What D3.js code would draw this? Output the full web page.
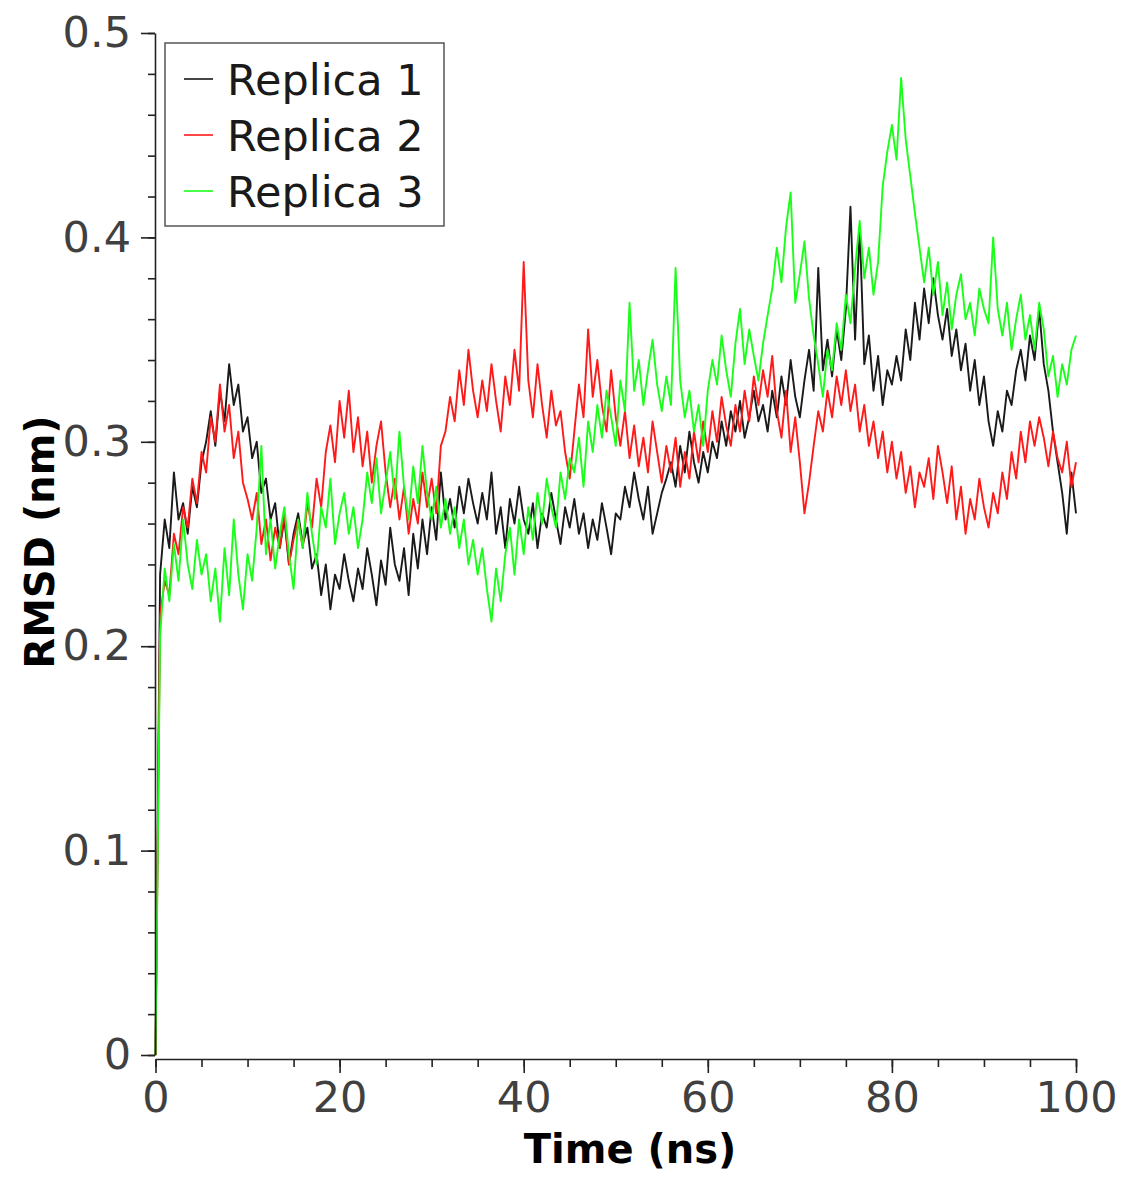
<!DOCTYPE html>
<html>
<head>
<meta charset="utf-8">
<script src="https://cdn.jsdelivr.net/npm/d3@7"></script>
<style>
  body { margin: 0; background: #fff; }
  svg { display: block; }
  .tick text { font-family: "DejaVu Sans", sans-serif; fill: #404040; }
</style>
</head>
<body>
<svg id="chart" width="1126" height="1177"></svg>
<script>
// RMSD values (nm), one every 0.5 ns starting at 0 ns
var replica1 = [0,
  0.235, 0.262, 0.248, 0.285, 0.262, 0.270, 0.255, 0.278, 0.268, 0.290,
  0.300, 0.315, 0.298, 0.325, 0.310, 0.338, 0.318, 0.328, 0.305, 0.312,
  0.292, 0.300, 0.275, 0.282, 0.262, 0.270, 0.248, 0.262, 0.240, 0.255,
  0.265, 0.250, 0.258, 0.238, 0.245, 0.225, 0.240, 0.218, 0.235, 0.228,
  0.245, 0.232, 0.222, 0.238, 0.228, 0.248, 0.235, 0.220, 0.242, 0.230,
  0.258, 0.240, 0.232, 0.248, 0.225, 0.255, 0.238, 0.262, 0.245, 0.268,
  0.252, 0.285, 0.262, 0.272, 0.258, 0.278, 0.265, 0.282, 0.270, 0.260,
  0.275, 0.262, 0.285, 0.255, 0.268, 0.248, 0.272, 0.260, 0.278, 0.262,
  0.255, 0.270, 0.248, 0.265, 0.258, 0.275, 0.262, 0.250, 0.268, 0.258,
  0.272, 0.255, 0.265, 0.248, 0.262, 0.252, 0.270, 0.258, 0.245, 0.265,
  0.262, 0.278, 0.268, 0.285, 0.272, 0.262, 0.278, 0.255, 0.265, 0.275,
  0.282, 0.290, 0.278, 0.298, 0.285, 0.305, 0.290, 0.280, 0.295, 0.285,
  0.300, 0.292, 0.310, 0.298, 0.315, 0.305, 0.320, 0.302, 0.312, 0.325,
  0.310, 0.318, 0.305, 0.325, 0.312, 0.332, 0.318, 0.340, 0.322, 0.312,
  0.330, 0.345, 0.325, 0.385, 0.335, 0.350, 0.332, 0.355, 0.340, 0.365,
  0.415, 0.350, 0.405, 0.338, 0.352, 0.325, 0.342, 0.318, 0.335, 0.328,
  0.342, 0.330, 0.355, 0.340, 0.368, 0.350, 0.375, 0.358, 0.380, 0.362,
  0.350, 0.365, 0.342, 0.355, 0.335, 0.348, 0.325, 0.340, 0.318, 0.332,
  0.310, 0.298, 0.315, 0.305, 0.325, 0.318, 0.335, 0.345, 0.330, 0.352,
  0.340, 0.365, 0.338, 0.325, 0.305, 0.290, 0.275, 0.255, 0.285, 0.265];

var replica2 = [0,
  0.215, 0.232, 0.225, 0.255, 0.245, 0.268, 0.258, 0.282, 0.270, 0.295,
  0.285, 0.312, 0.300, 0.328, 0.305, 0.318, 0.292, 0.305, 0.280, 0.272,
  0.262, 0.275, 0.250, 0.262, 0.242, 0.258, 0.248, 0.265, 0.240, 0.252,
  0.262, 0.248, 0.270, 0.258, 0.282, 0.268, 0.295, 0.308, 0.290, 0.320,
  0.302, 0.325, 0.295, 0.312, 0.288, 0.305, 0.280, 0.298, 0.310, 0.285,
  0.268, 0.282, 0.262, 0.278, 0.255, 0.272, 0.260, 0.285, 0.268, 0.282,
  0.265, 0.298, 0.305, 0.322, 0.310, 0.335, 0.318, 0.345, 0.325, 0.312,
  0.330, 0.315, 0.338, 0.320, 0.305, 0.332, 0.318, 0.345, 0.325, 0.388,
  0.330, 0.312, 0.338, 0.318, 0.302, 0.325, 0.308, 0.315, 0.295, 0.282,
  0.305, 0.328, 0.312, 0.355, 0.322, 0.340, 0.318, 0.305, 0.335, 0.312,
  0.298, 0.315, 0.292, 0.308, 0.288, 0.302, 0.285, 0.310, 0.295, 0.280,
  0.298, 0.285, 0.302, 0.278, 0.295, 0.282, 0.305, 0.290, 0.310, 0.295,
  0.315, 0.300, 0.322, 0.308, 0.298, 0.318, 0.305, 0.325, 0.310, 0.332,
  0.318, 0.335, 0.322, 0.342, 0.315, 0.302, 0.325, 0.295, 0.312, 0.290,
  0.265, 0.280, 0.298, 0.315, 0.305, 0.325, 0.312, 0.332, 0.318, 0.335,
  0.315, 0.328, 0.305, 0.318, 0.298, 0.310, 0.292, 0.305, 0.285, 0.300,
  0.282, 0.295, 0.275, 0.288, 0.268, 0.285, 0.278, 0.292, 0.272, 0.298,
  0.285, 0.270, 0.288, 0.262, 0.278, 0.255, 0.272, 0.262, 0.282, 0.268,
  0.258, 0.275, 0.265, 0.285, 0.272, 0.295, 0.282, 0.305, 0.290, 0.310,
  0.298, 0.312, 0.302, 0.288, 0.305, 0.292, 0.285, 0.300, 0.278, 0.290];

var replica3 = [0,
  0.205, 0.238, 0.222, 0.250, 0.232, 0.262, 0.240, 0.228, 0.252, 0.235,
  0.245, 0.222, 0.238, 0.212, 0.248, 0.225, 0.262, 0.235, 0.218, 0.245,
  0.232, 0.258, 0.298, 0.245, 0.262, 0.238, 0.255, 0.268, 0.245, 0.228,
  0.262, 0.248, 0.275, 0.255, 0.240, 0.268, 0.258, 0.282, 0.250, 0.265,
  0.275, 0.255, 0.268, 0.248, 0.262, 0.285, 0.270, 0.292, 0.265, 0.280,
  0.295, 0.272, 0.305, 0.278, 0.262, 0.288, 0.270, 0.298, 0.275, 0.262,
  0.278, 0.258, 0.272, 0.255, 0.268, 0.248, 0.262, 0.240, 0.252, 0.235,
  0.248, 0.228, 0.212, 0.238, 0.222, 0.245, 0.258, 0.235, 0.262, 0.245,
  0.268, 0.252, 0.275, 0.260, 0.282, 0.268, 0.258, 0.285, 0.272, 0.292,
  0.285, 0.302, 0.278, 0.310, 0.295, 0.318, 0.302, 0.325, 0.312, 0.298,
  0.330, 0.315, 0.368, 0.325, 0.340, 0.318, 0.335, 0.350, 0.328, 0.315,
  0.332, 0.318, 0.385, 0.330, 0.312, 0.325, 0.305, 0.318, 0.298, 0.325,
  0.340, 0.328, 0.352, 0.335, 0.322, 0.348, 0.365, 0.338, 0.355, 0.342,
  0.330, 0.348, 0.362, 0.375, 0.395, 0.378, 0.405, 0.422, 0.368, 0.382,
  0.398, 0.370, 0.352, 0.338, 0.322, 0.345, 0.335, 0.358, 0.345, 0.372,
  0.358, 0.385, 0.408, 0.380, 0.395, 0.372, 0.388, 0.425, 0.442, 0.455,
  0.438, 0.478, 0.448, 0.430, 0.412, 0.395, 0.378, 0.395, 0.372, 0.388,
  0.362, 0.378, 0.355, 0.372, 0.382, 0.360, 0.368, 0.352, 0.375, 0.365,
  0.358, 0.400, 0.365, 0.352, 0.368, 0.345, 0.360, 0.372, 0.350, 0.362,
  0.345, 0.368, 0.355, 0.332, 0.342, 0.322, 0.338, 0.328, 0.345, 0.352];

var step = 0.5; // ns between samples
var seriesNames = ["Replica 1", "Replica 2", "Replica 3"];
var seriesColors = ["#1a1a1a", "#ff1a1a", "#1aff1a"];
var xTicks = [0, 20, 40, 60, 80, 100];
var yTicks = [0, 0.1, 0.2, 0.3, 0.4, 0.5];

var svg = d3.select("#chart");

var x = d3.scaleLinear().domain([0, 100]).range([155.5, 1076]);
var y = d3.scaleLinear().domain([0, 0.5]).range([1055, 33]);

var line = d3.line()
    .x(function(d, i) { return x(i * step); })
    .y(function(d) { return y(d); });

[replica1, replica2, replica3].forEach(function(vals, k) {
    svg.append("path")
        .datum(vals)
        .attr("fill", "none")
        .attr("stroke", seriesColors[k])
        .attr("stroke-width", 1.9)
        .attr("stroke-linejoin", "round")
        .attr("d", line);
});

// x axis (sits a few px below y=0, like the original)
var xAxisY = 1059;
svg.append("g")
    .attr("transform", "translate(0," + xAxisY + ")")
    .call(d3.axisBottom(x).tickValues(d3.range(0, 101, 5)).tickSize(8).tickFormat(""))
    .call(function(g) { g.select(".domain").remove(); });
svg.append("g")
    .attr("transform", "translate(0," + xAxisY + ")")
    .call(d3.axisBottom(x).tickValues(xTicks).tickSizeInner(14).tickSizeOuter(0).tickPadding(8)
        .tickFormat(d3.format("d")))
    .call(function(g) {
        g.selectAll("text").style("font-size", "43px");
    });

// y axis
var yAxisX = 155;
svg.append("g")
    .attr("transform", "translate(" + yAxisX + ",0)")
    .call(d3.axisLeft(y).tickValues(d3.range(0, 0.501, 0.02)).tickSize(7).tickFormat(""))
    .call(function(g) { g.select(".domain").remove(); });
svg.append("g")
    .attr("transform", "translate(" + yAxisX + ",0)")
    .call(d3.axisLeft(y).tickValues(yTicks).tickSizeInner(14).tickSizeOuter(0).tickPadding(10)
        .tickFormat(function(d) { return d === 0 ? "0" : d3.format(".1f")(d); }))
    .call(function(g) {
        g.selectAll("text").style("font-size", "43px");
    });

svg.selectAll(".domain, .tick line").attr("stroke", "#222").attr("stroke-width", 1.6);

// axis titles
svg.append("text")
    .attr("x", 630).attr("y", 1163)
    .attr("text-anchor", "middle")
    .style("font-family", "DejaVu Sans, sans-serif")
    .style("font-weight", "bold").style("font-size", "40px")
    .text("Time (ns)");
svg.append("text")
    .attr("transform", "translate(54,542) rotate(-90)")
    .attr("text-anchor", "middle")
    .style("font-family", "DejaVu Sans, sans-serif")
    .style("font-weight", "bold").style("font-size", "40px")
    .text("RMSD (nm)");

// legend
var legend = svg.append("g");
legend.append("rect")
    .attr("x", 165).attr("y", 43).attr("width", 279).attr("height", 183)
    .attr("fill", "#fff").attr("stroke", "#555").attr("stroke-width", 1.5);
seriesNames.forEach(function(name, k) {
    var ly = 79 + k * 56;
    legend.append("line")
        .attr("x1", 184).attr("x2", 213).attr("y1", ly).attr("y2", ly)
        .attr("stroke", seriesColors[k]).attr("stroke-width", 1.6);
    legend.append("text")
        .attr("x", 227).attr("y", ly + 16)
        .style("font-family", "DejaVu Sans, sans-serif")
        .style("font-size", "43px").style("fill", "#1a1a1a")
        .text(name);
});
</script>
</body>
</html>
